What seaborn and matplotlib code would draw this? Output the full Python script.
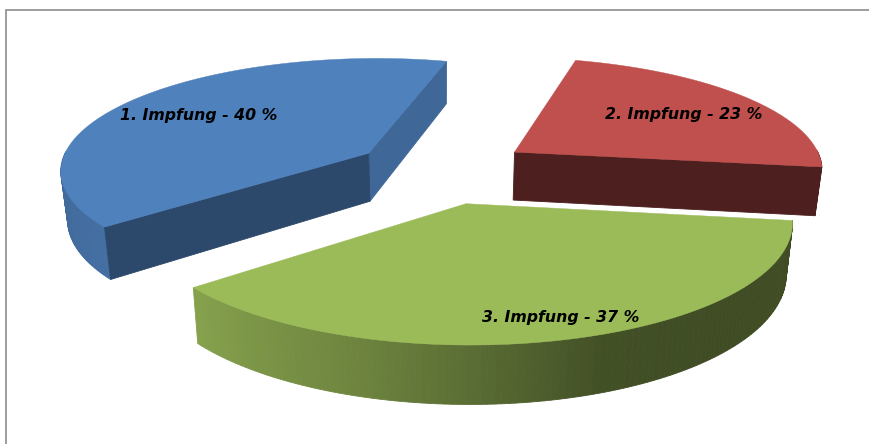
import numpy as np
import matplotlib
matplotlib.use('Agg')
import matplotlib.pyplot as plt
import matplotlib.colors as mcolors
import seaborn as sns

labels = ['1. Impfung - 40 %', '2. Impfung - 23 %', '3. Impfung - 37 %']
shares = [40, 23, 37]
explode = [0.28, 0.295, 0.30]
colors = ['#4f81bd', '#c0504d', '#9bbb59']
label_pos = [(199, 115), (684, 114), (561, 317)]

# how dark the two cut faces are (start edge, end edge of each slice)
cut_shade = [(0.8, 0.56), (0.4, 0.4), (0.4, 0.4)]

sns.set_theme(style='white')
plt.rcParams['font.family'] = ['DejaVu Sans']

# projection of the flat disc onto the picture
X0, Y0 = 440, 170
RX, RY = 310, 112
PERSP = 0.136
DEPTH = 49
TAPER = 0.018


def project(u, v, z=0.0):
    w = 1 + PERSP * v
    return X0 + RX * u / w * (1 - TAPER * z), Y0 - RY * v / w + z * DEPTH / w


def shade(col, f):
    return tuple(np.array(mcolors.to_rgb(col)) * f)


def rim_factor(theta):
    # lighter towards the left, dark on the right
    t = np.mod(theta, 360)
    return np.interp(t, [120, 180, 220, 250, 270, 290, 310, 360],
                     [0.8, 0.8, 0.86, 0.72, 0.58, 0.43, 0.41, 0.41])


fig = plt.figure(figsize=(8.69, 4.44), dpi=100, facecolor='white')

# flat pie only gives the slice geometry, it is not shown
flat = fig.add_axes([0, 0, 0.01, 0.01])
wedges, _ = flat.pie(shares, explode=explode, startangle=219, counterclock=False, radius=1)
flat.set_visible(False)

ax = fig.add_axes([0, 0, 1, 1])
ax.set_xlim(0, 869)
ax.set_ylim(444, 0)
ax.axis('off')

ax.plot([6, 6, 869], [444, 10, 10], color='#8c8c8c', lw=1.2, solid_joinstyle='miter')


def quad(p, q, col):
    (u1, v1), (u2, v2) = p, q
    xs = [project(u1, v1)[0], project(u2, v2)[0], project(u2, v2, 1)[0], project(u1, v1, 1)[0]]
    ys = [project(u1, v1)[1], project(u2, v2)[1], project(u2, v2, 1)[1], project(u1, v1, 1)[1]]
    ax.fill(xs, ys, color=col, lw=0.6)


for i, wd in enumerate(wedges):
    cu, cv = wd.center
    th = np.linspace(wd.theta1, wd.theta2, 120)
    u = cu + wd.r * np.cos(np.radians(th))
    v = cv + wd.r * np.sin(np.radians(th))

    # only faces turned towards the viewer, rim first
    for j in range(len(th) - 1):
        if np.sin(np.radians(th[j])) < 0.02:
            quad((u[j], v[j]), (u[j + 1], v[j + 1]), shade(colors[i], rim_factor(th[j])))
    if np.sin(np.radians(wd.theta1 - 90)) < 0:
        quad((cu, cv), (u[0], v[0]), shade(colors[i], cut_shade[i][0]))
    if np.sin(np.radians(wd.theta2 + 90)) < 0:
        quad((cu, cv), (u[-1], v[-1]), shade(colors[i], cut_shade[i][1]))

    # top face
    xt, yt = project(np.r_[cu, u], np.r_[cv, v])
    ax.fill(xt, yt, color=colors[i], lw=0.3)

for lab, (x, y) in zip(labels, label_pos):
    ax.text(x, y, lab, ha='center', va='center', fontsize=11.3, style='italic',
            fontweight='bold', color='black')

fig.savefig('out.png', dpi=100)
